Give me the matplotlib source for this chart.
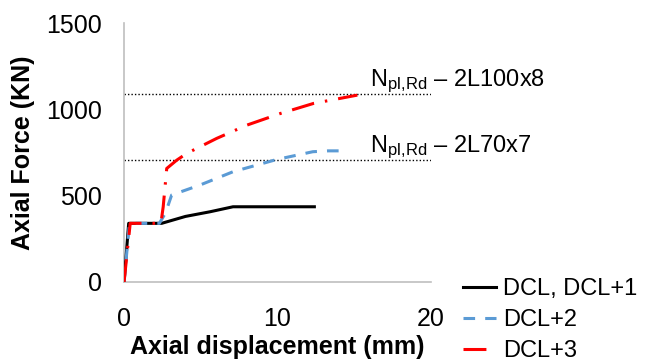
import matplotlib
matplotlib.use("Agg")
import matplotlib.pyplot as plt

plt.rcParams['font.family'] = ['Liberation Sans', 'DejaVu Sans']
plt.rcParams['mathtext.fontset'] = 'custom'
plt.rcParams['mathtext.rm'] = 'Liberation Sans'

# curve data
dcl1_x = [0, 0.3, 2.45, 4.0, 5.6, 7.1, 12.4]
dcl1_y = [0, 340, 340, 380, 407, 436, 436]

dcl2_x = [0, 0.35, 2.3, 2.7, 3.1, 4.95, 7.1, 9.95, 12.3, 13.3, 14.4]
dcl2_y = [0, 340, 340, 400, 504, 562, 639, 710, 755, 760, 760]

dcl3_x = [0, 0.4, 2.4, 2.55, 2.78, 3.43, 4.08, 6.03, 8.0, 10.2, 12.35, 15.2]
dcl3_y = [0, 340, 340, 436, 658, 706, 745, 832, 909, 977, 1035, 1083]

npl_values = [1089, 706]
npl_labels = ["2L100x8", "2L70x7"]

fig = plt.figure(figsize=(6.53, 3.62), dpi=100)
ax = fig.add_axes([0.19, 0.221, 0.47, 0.715])

for val, lab in zip(npl_values, npl_labels):
    ax.axhline(val, color='black', linestyle=(0, (1, 1.5)), linewidth=1.0, zorder=1)
    ax.text(0.8, val + 48, r"$\mathrm{N_{pl,\!Rd}}$ – " + lab, transform=ax.get_yaxis_transform(),
            fontsize=17, ha='left', va='baseline', clip_on=False)

ax.plot(dcl1_x, dcl1_y, color='black', linewidth=2.2, label='DCL, DCL+1', zorder=3)
ax.plot(dcl2_x, dcl2_y, color='#5B9BD5', linewidth=2.2, linestyle=(0, (3.8, 3.3)), label='DCL+2', zorder=4)
ax.plot(dcl3_x, dcl3_y, color='red', linewidth=2.2, linestyle=(0, (7.5, 3.6, 0.8, 3.6)), label='DCL+3', zorder=5)

ax.set_xlim(0, 20)
ax.set_ylim(0, 1500)
ax.set_xticks([0, 10, 20])
ax.set_yticks([0, 500, 1000, 1500])
ax.tick_params(length=0, labelsize=18)
ax.tick_params(axis='x', pad=18)
ax.tick_params(axis='y', pad=16)
for s in ['top', 'right']:
    ax.spines[s].set_visible(False)
for s in ['left', 'bottom']:
    ax.spines[s].set_color('#BFBFBF')
    ax.spines[s].set_linewidth(1.2)

ax.set_xlabel("Axial displacement (mm)", fontsize=18, fontweight='bold', labelpad=3)
ax.set_ylabel("Axial Force (KN)", fontsize=18, fontweight='bold', labelpad=8)

fig.legend(loc='center left', bbox_to_anchor=(0.695, 0.115), frameon=False, fontsize=17,
           handlelength=1.4, handletextpad=0.3, labelspacing=0.38, borderaxespad=0)

fig.savefig("out.png", dpi=100)
